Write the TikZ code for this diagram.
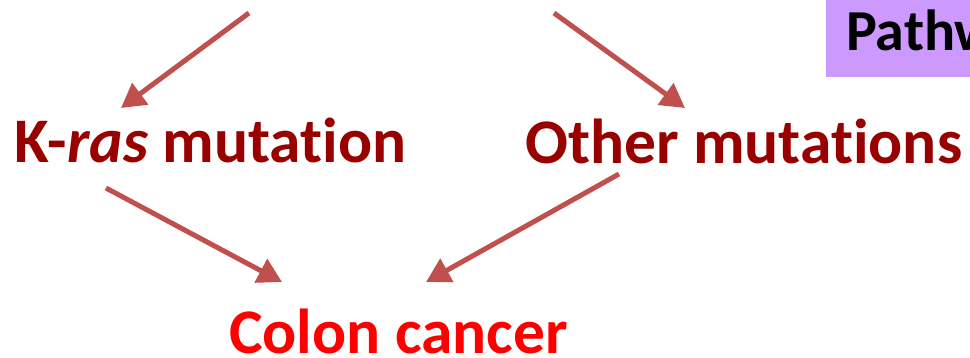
\documentclass[tikz,border=0pt]{standalone}
\usepackage{fontspec}
\setmainfont{Carlito}[Ligatures=NoCommon]
\usetikzlibrary{arrows.meta}
\definecolor{mutred}{HTML}{990000}
\definecolor{arrowred}{HTML}{C0504D}
\definecolor{cancerred}{HTML}{FF0000}
\definecolor{pathpurple}{HTML}{CC99FF}
\tikzset{
  label text/.style={anchor=base west, inner sep=0pt, font=\fontsize{63.5}{63.5}\selectfont\bfseries},
  flow arrow/.style={draw=arrowred, line width=5pt,
    -{Triangle[length=24pt,width=26pt]}, shorten >=0pt},
}
\begin{document}
\begin{tikzpicture}[x=1pt,y=-1pt]
  \useasboundingbox (0,0) rectangle (970,357);
  \begin{scope}
    \clip (0,0) rectangle (970,357);
    % pathway tag, partly outside the frame
    \fill[pathpurple] (826,-5) rectangle (1100,77);
    \node[label text, font=\fontsize{58}{58}\selectfont\bfseries, text=black] (tag) at (846,50) {Pathway};
  \end{scope}

  % mutation labels
  \node[label text, text=mutred] (kras) at (14,162) {K-\textit{ras} mutation};
  \node[label text, text=mutred] (other) at (525,163) {Other mutations};
  \node[label text, font=\fontsize{63.5}{63.5}\selectfont\bfseries, text=cancerred] (colon) at (229,353) {Colon cancer};

  % arrow end points
  \coordinate (a1s) at (249,13);
  \coordinate (a1e) at (121,108);
  \coordinate (a2s) at (554,13);
  \coordinate (a2e) at (685,108);
  \coordinate (a3s) at (106,188);
  \coordinate (a3e) at (282,282);
  \coordinate (a4s) at (619,174);
  \coordinate (a4e) at (426,282);

  \draw[flow arrow] (a1s) -- (a1e);
  \draw[flow arrow] (a2s) -- (a2e);
  \draw[flow arrow] (a3s) -- (a3e);
  \draw[flow arrow] (a4s) -- (a4e);
\end{tikzpicture}
\end{document}
